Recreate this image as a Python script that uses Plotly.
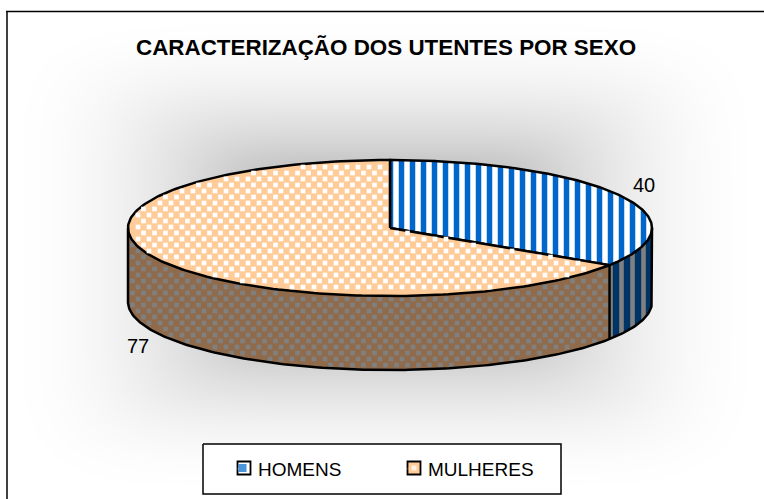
import numpy as np
import plotly.graph_objects as go

categories = ["HOMENS", "MULHERES"]
values = [40, 77]
top_colors = ["#0066CC", "#FFCC99"]
side_colors = ["#003366", "#8F6B4C"]
side_fg = ["#808080", "#808080"]

W, H = 764, 499
cx, cy, rx, ry, depth = 390, 228, 262, 68, 74
OUT = 2.5

def pt(theta, dz=0):
    return cx + rx * np.sin(theta), cy - ry * np.cos(theta) + dz

total = sum(values)
splits = np.cumsum([0] + values) / total * 2 * np.pi

fig = go.Figure()

# background gradient
gx = np.linspace(7, W, 160)
gy = np.linspace(12, H, 120)
X, Y = np.meshgrid(gx, gy)
T = ((np.abs(X - 385) / 385) ** 6 + (np.abs(Y - 255) / 245) ** 6) ** (1 / 6)
T = T.clip(0, 1)
Z = (1 - T) ** 2
fig.add_trace(go.Heatmap(x=gx, y=gy, z=Z, zmin=0, zmax=1, showscale=False, zsmooth="best",
                         colorscale=[[0, "#ffffff"], [1, "#6e6e6e"]], hoverinfo="skip"))

def lattice(mask_fn):
    xs, ys = [], []
    for j, yy in enumerate(np.arange(155, 375, 6.0)):
        for xx in np.arange(116 + (j % 2) * 5.5, 660, 11.0):
            if mask_fn(xx, yy):
                xs.append(xx); ys.append(yy)
    return xs, ys

SQ = 4.6

# side walls (visible lower half)
t_side0 = np.linspace(np.pi / 2, splits[1], 40)
t_side1 = np.linspace(splits[1], 3 * np.pi / 2, 120)
for i, ts in enumerate([t_side0, t_side1]):
    x0, y0 = pt(ts)
    x1, y1 = pt(ts[::-1], depth)
    xp = np.r_[x0, x1, x0[0]]
    yp = np.r_[y0, y1, y0[0]]
    if i == 0:
        fig.add_trace(go.Scatter(x=xp, y=yp, mode="lines", fill="toself", line=dict(width=0), showlegend=False,
                                 hoverinfo="skip", fillcolor=side_colors[0],
                                 fillpattern=dict(shape="|", size=11, solidity=0.42, fgcolor=side_fg[0],
                                                  bgcolor=side_colors[0], fillmode="replace")))
    else:
        fig.add_trace(go.Scatter(x=xp, y=yp, mode="lines", fill="toself", line=dict(width=0), showlegend=False,
                                 hoverinfo="skip", fillcolor=side_colors[1]))
        xdiv = pt(splits[1])[0]
        def in_wall(x, y):
            if x > xdiv - 3 or x < cx - rx + 3:
                return False
            u = (x - cx) / rx
            yb = cy + ry * np.sqrt(1 - u * u)
            return yb + 3 < y < yb + depth - 3
        mx, my = lattice(in_wall)
        fig.add_trace(go.Scatter(x=mx, y=my, mode="markers", showlegend=False, hoverinfo="skip",
                                 marker=dict(symbol="square", size=SQ, color=side_fg[1], line=dict(width=0))))

# top slices
for i in range(2):
    ts = np.linspace(splits[i], splits[i + 1], 200)
    x0, y0 = pt(ts)
    xp = np.r_[cx, x0, cx]
    yp = np.r_[cy, y0, cy]
    kw = {}
    if i == 0:
        kw = dict(fillpattern=dict(shape="|", size=11, solidity=0.5, fgcolor=top_colors[0], bgcolor="#ffffff",
                                   fillmode="replace"))
    fig.add_trace(go.Scatter(x=xp, y=yp, mode="lines", fill="toself", fillcolor=top_colors[i],
                             line=dict(color="#000000", width=OUT), hoverinfo="skip", showlegend=False, **kw))
    if i == 1:
        def in_top(x, y):
            u, v = (x - cx) / (rx - 4), (y - cy) / (ry - 3)
            if u * u + v * v >= 1:
                return False
            a = np.arctan2((x - cx) / rx, -(y - cy) / ry) % (2 * np.pi)
            return splits[1] + 0.03 < a < 2 * np.pi - 0.02
        mx, my = lattice(in_top)
        fig.add_trace(go.Scatter(x=mx, y=my, mode="markers", showlegend=False, hoverinfo="skip",
                                 marker=dict(symbol="square", size=SQ, color="#ffffff", line=dict(width=0))))

# outlines of the walls
ts = np.linspace(np.pi / 2, 3 * np.pi / 2, 200)
xo, yo = pt(ts, depth)
xa, ya = pt(np.pi / 2)
xb, yb = pt(3 * np.pi / 2)
fig.add_trace(go.Scatter(x=np.r_[xa, xo, xb], y=np.r_[ya, yo, yb], mode="lines", line=dict(color="#000000", width=OUT),
                         showlegend=False, hoverinfo="skip"))
xd, yd = pt(splits[1])
fig.add_trace(go.Scatter(x=[xd, xd], y=[yd, yd + depth], mode="lines", line=dict(color="#000000", width=OUT),
                         showlegend=False, hoverinfo="skip"))

# legend box and keys
fig.add_trace(go.Scatter(x=[203, 561, 561, 203, 203], y=[444, 444, 494, 494, 444], mode="lines", fill="toself",
                         fillcolor="#ffffff", line=dict(color="#000000", width=1.5), showlegend=False,
                         hoverinfo="skip"))
key_x = [244, 414]
key_y = [468, 468]
fig.add_trace(go.Scatter(x=key_x, y=key_y, mode="markers", showlegend=False, hoverinfo="skip",
                         marker=dict(symbol="square", size=13, color=["#ffffff", top_colors[1]],
                                     line=dict(color="#000000", width=1.8))))
fig.add_trace(go.Scatter(x=[key_x[0] - 1.5, key_x[1]], y=key_y, mode="markers", showlegend=False, hoverinfo="skip",
                         marker=dict(symbol="square", size=[8, 5], color=[top_colors[0], "#ffffff"],
                                     line=dict(width=0))))
# real legend entries (text); keys are drawn above
for i, c in enumerate(categories):
    fig.add_trace(go.Scatter(x=[None], y=[None], mode="markers", name=c, marker=dict(size=1, opacity=0, color="#ffffff"),
                             hoverinfo="skip"))

font = "Liberation Sans"
fig.update_layout(
    width=W, height=H, margin=dict(l=0, r=0, t=0, b=0),
    paper_bgcolor="#ffffff", plot_bgcolor="#ffffff",
    xaxis=dict(range=[0, W], visible=False, fixedrange=True),
    yaxis=dict(range=[H, 0], visible=False, fixedrange=True),
    font=dict(family=font, color="#000000"),
    showlegend=True,
    legend=dict(orientation="h", x=218 / W, y=1 - 469 / H, xanchor="left", yanchor="middle",
                bgcolor="rgba(0,0,0,0)", borderwidth=0, entrywidth=125, entrywidthmode="pixels",
                font=dict(size=19, family=font, color="#000000"), itemclick=False, itemdoubleclick=False),
    shapes=[
        dict(type="line", xref="x", yref="y", x0=6, x1=W, y0=11.5, y1=11.5, line=dict(color="#000000", width=1.5)),
        dict(type="line", xref="x", yref="y", x0=7, x1=7, y0=11.5, y1=H, line=dict(color="#000000", width=1.5)),
    ],
    annotations=[
        dict(text="<b>CARACTERIZAÇÃO DOS UTENTES POR SEXO</b>", xref="x", yref="y", x=385.5, y=47, showarrow=False,
             font=dict(size=22.4, family=font, color="#000000")),
        dict(text=str(values[0]), xref="x", yref="y", x=644, y=185, showarrow=False,
             font=dict(size=20, family=font, color="#000000")),
        dict(text=str(values[1]), xref="x", yref="y", x=137.5, y=346, showarrow=False,
             font=dict(size=20, family=font, color="#000000")),
    ],
)
fig.write_html("out.html", post_script="document.body.style.margin='0';", config={"displayModeBar": False})
